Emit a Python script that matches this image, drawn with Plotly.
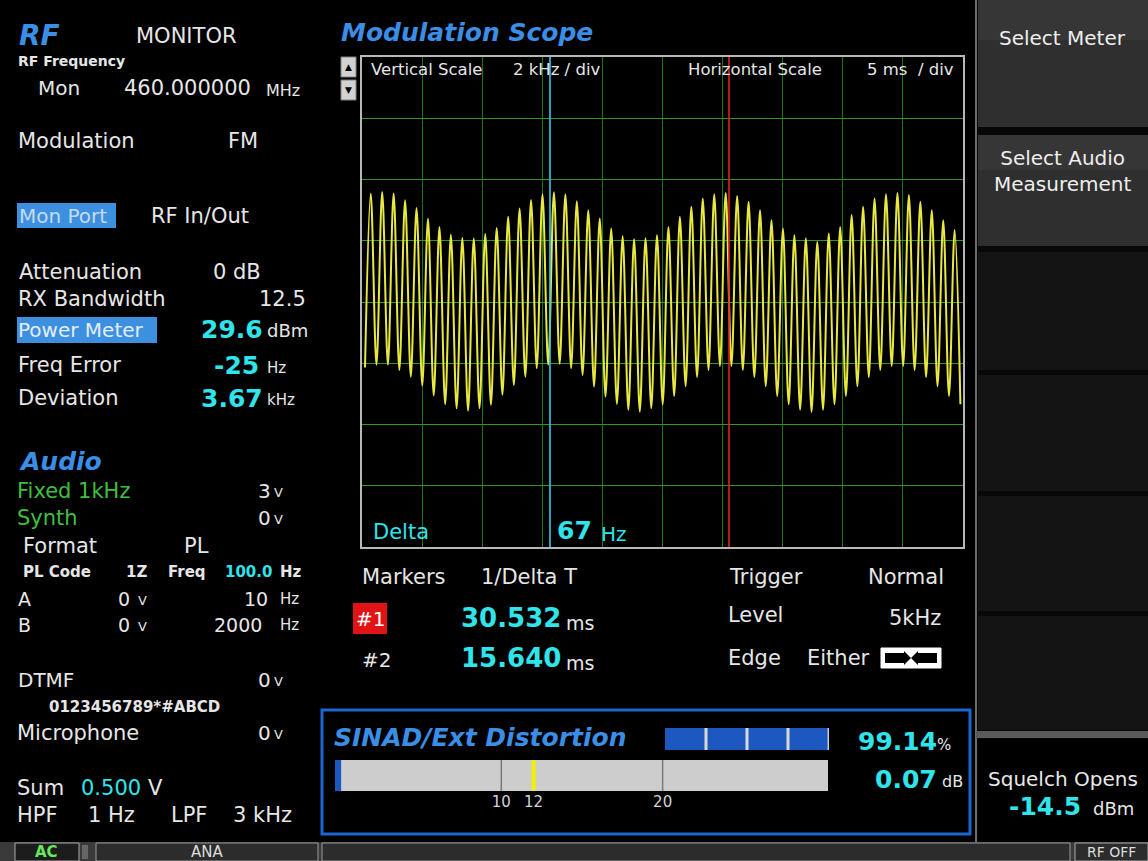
import plotly.graph_objects as go

# Modulation scope: successive trough / peak deviation values (kHz) of the 1 kHz tone
scope_troughs_khz = [-2.14, -2.05, -2.05, -2.22, -2.44, -2.73, -3.05, -3.34, -3.47, -3.55, -3.47, -3.36, -3.03,
                     -2.71, -2.44, -2.16, -2.05, -2.02, -2.16, -2.38, -2.76, -3.09, -3.33, -3.52, -3.58, -3.47,
                     -3.34, -3.07, -2.75, -2.45,
                     -2.22, -2.09, -2.09, -2.22, -2.45, -2.75, -3.07, -3.34, -3.52, -3.59, -3.52, -3.34, -3.07, -2.75, -2.45,
                     -2.22, -2.09, -2.09, -2.22, -2.45, -2.75, -3.07, -3.34]
scope_peaks_khz = [3.54, 3.59, 3.54, 3.32, 3.07, 2.72, 2.45, 2.20, 2.09, 2.07, 2.22, 2.42, 2.78,
                   3.05, 3.33, 3.52, 3.58, 3.52, 3.29, 3.00, 2.73, 2.40, 2.15, 2.05, 2.08,
                   2.18, 2.45, 2.78, 3.11, 3.38, 3.52, 3.56, 3.46, 3.27, 3.00, 2.67, 2.40, 2.18, 2.08, 1.97,
                   2.24, 2.45, 2.84, 3.11, 3.38, 3.52, 3.56, 3.49, 3.27, 3.00, 2.67, 2.35]
first_extremum_ms = 0.25      # time of first trough
half_period_ms = 0.4763       # trough-to-peak spacing of the tone
scope_x_range_ms = [0, 50]    # 5 ms/div x 10 div
scope_y_range_khz = [-8, 8]   # 2 kHz/div x 8 div
marker1_ms = 30.532
marker2_ms = 15.640

# SINAD / distortion meters
sinad_db = 0.07
distortion_pct = 99.14
sinad_axis = [-0.31, 30.25]
sinad_tickvals = [10, 12, 20]
sinad_ticktext = ["10", "12", "20"]
sinad_grey_marks = [10, 20]
sinad_limit_db = 12
dist_dividers = [25, 50, 75]

# ---------------- build trace from data ----------------
scope_vals = []
for i, tr in enumerate(scope_troughs_khz):
    scope_vals.append(tr)
    if i < len(scope_peaks_khz):
        scope_vals.append(scope_peaks_khz[i])
scope_t = [first_extremum_ms + i * half_period_ms for i in range(len(scope_vals))]

W, H = 1148, 861
FONT = "DejaVu Sans"
WHITE = "#e6e6e6"
CYAN = "#2fe4ea"
BLUE = "#3a8ee6"
GREEN = "#3fbf3f"


def px(x):
    return x / W


def py(y):
    return 1 - y / H


ann = []
shapes = []


def T(x, y, s, size=21, color=WHITE, bold=False, italic=False, xanchor="left"):
    if bold:
        s = "<b>" + s + "</b>"
    if italic:
        s = "<i>" + s + "</i>"
    ann.append(dict(x=px(x), y=py(y), xref="paper", yref="paper", text=s, showarrow=False,
                    xanchor=xanchor, yanchor="middle", borderpad=0,
                    font=dict(size=size, color=color, family=FONT)))


def R(x0, y0, x1, y1, fill=None, line=None, lw=0, layer="below"):
    shapes.append(dict(type="rect", xref="paper", yref="paper", x0=px(x0), x1=px(x1),
                       y0=py(y1), y1=py(y0), fillcolor=fill if fill else "rgba(0,0,0,0)",
                       line=dict(color=line if line else "rgba(0,0,0,0)", width=lw), layer=layer))


fig = go.Figure()

fig.add_trace(go.Scatter(x=scope_t, y=scope_vals, mode="lines",
                         line=dict(color="rgb(232,232,64)", width=2, shape="spline", smoothing=1),
                         hoverinfo="skip", xaxis="x", yaxis="y"))

# SINAD bar
fig.add_trace(go.Bar(y=[0], x=[sinad_db - sinad_axis[0]], base=[sinad_axis[0]], orientation="h", width=1,
                     marker=dict(color="#1d58c0", line=dict(width=0)), xaxis="x2", yaxis="y2",
                     hoverinfo="skip"))
# Distortion bar
fig.add_trace(go.Bar(y=[0], x=[distortion_pct], orientation="h", width=1,
                     marker=dict(color="#1d58c0", line=dict(width=0)), xaxis="x3", yaxis="y3",
                     hoverinfo="skip"))

# ---------------- left panel ----------------
T(18, 36, "RF", 28, BLUE, bold=True, italic=True)
T(135, 36, "MONITOR", 21)
T(17, 61, "RF Frequency", 14, bold=True)
T(37, 88, "Mon", 20)
T(123, 88, "460.000000", 21)
T(265, 90, "MHz", 16)
T(17, 141, "Modulation", 21)
T(227, 141, "FM", 21)
R(17, 203, 116, 228, "#3d8fe0")
T(18, 216, "Mon Port", 20, "#c4dcf4")
T(150, 216, "RF In/Out", 21)
T(18, 272, "Attenuation", 21)
T(212, 272, "0 dB", 21)
T(17, 299, "RX Bandwidth", 21)
T(258, 299, "12.5", 21)
R(17, 317, 157, 343, "#3d8fe0")
T(17, 330, "Power Meter", 20, "#e4eefa")
T(200, 330, "29.6", 25, CYAN, bold=True)
T(266, 331, "dBm", 18)
T(17, 365, "Freq Error", 21)
T(213, 365, "-25", 25, CYAN, bold=True)
T(266, 368, "Hz", 15)
T(17, 398, "Deviation", 21)
T(200, 398, "3.67", 25, CYAN, bold=True)
T(266, 400, "kHz", 15)

T(18, 461, "Audio", 25, BLUE, bold=True, italic=True)
T(16, 491, "Fixed 1kHz", 21, GREEN)
T(257, 491, "3", 20); T(273, 492, "V", 13)
T(16, 518, "Synth", 21, GREEN)
T(257, 518, "0", 20); T(273, 519, "V", 13)
T(22, 546, "Format", 21)
T(183, 546, "PL", 21)
T(22, 572, "PL Code", 15, bold=True)
T(125, 572, "1Z", 15, bold=True)
T(167, 572, "Freq", 15, bold=True)
T(224, 572, "100.0", 15, CYAN, bold=True)
T(279, 572, "Hz", 15, bold=True)
T(17, 599, "A", 19); T(117, 599, "0", 19); T(137, 600, "V", 13)
T(243, 599, "10", 19); T(279, 599, "Hz", 15)
T(17, 625, "B", 19); T(117, 625, "0", 19); T(137, 626, "V", 13)
T(213, 625, "2000", 19); T(279, 625, "Hz", 15)
T(17, 680, "DTMF", 20)
T(257, 680, "0", 20); T(273, 681, "V", 13)
T(48, 707, "0123456789*#ABCD", 15, bold=True)
T(16, 733, "Microphone", 21)
T(257, 733, "0", 20); T(273, 734, "V", 13)
T(16, 788, "Sum", 21)
T(80, 788, "0.500", 21, CYAN)
T(147, 788, "V", 21)
T(16, 815, "HPF", 21)
T(87, 815, "1 Hz", 21)
T(170, 815, "LPF", 21)
T(232, 815, "3 kHz", 21)

# ---------------- scope area ----------------
T(340, 32, "Modulation Scope", 25, BLUE, bold=True, italic=True)
R(341, 57, 356, 77, "#d2d2d2", "#808080", 1)
R(341, 80, 356, 100, "#d2d2d2", "#808080", 1)
T(348.5, 67, "▲", 9, "#000000", xanchor="center")
T(348.5, 90, "▼", 9, "#000000", xanchor="center")
T(370, 69, "Vertical Scale", 16.5)
T(512, 69, "2 kHz / div", 16.5)
T(687, 69, "Horizontal Scale", 16.5)
T(866, 69, "5 ms  / div", 16.5)
T(372, 532, "Delta", 21, CYAN)
T(556, 530, "67", 25, CYAN, bold=True)
T(600, 534, "Hz", 20, CYAN)

for xm, col in [(marker2_ms, "#35c8ea"), (marker1_ms, "#e02020")]:
    shapes.append(dict(type="line", xref="x", yref="y domain", x0=xm, x1=xm, y0=0, y1=1,
                       line=dict(color=col, width=1.6), layer="above"))

T(361, 577, "Markers", 21)
T(480, 577, "1/Delta T", 21)
T(728, 577, "Trigger", 21)
T(867, 577, "Normal", 21)
R(353, 603, 387, 634, "#e01414")
T(370, 619, "#1", 20, "#ffffff", xanchor="center")
T(460, 618, "30.532", 26, CYAN, bold=True)
T(565, 623, "ms", 19)
T(727, 615, "Level", 21)
T(888, 618, "5kHz", 21)
T(361, 660, "#2", 20)
T(460, 658, "15.640", 26, CYAN, bold=True)
T(565, 663, "ms", 19)
T(727, 658, "Edge", 21)
T(806, 658, "Either", 21)
R(881, 648, 941, 668, "#ffffff", "#ffffff", 1, layer="above")
R(885, 653, 904, 663, "#000000", layer="above")
R(918, 653, 937, 663, "#000000", layer="above")
shapes.append(dict(type="path", xref="paper", yref="paper", layer="above",
                   path="M %f %f L %f %f L %f %f Z M %f %f L %f %f L %f %f Z" % (
                       px(904), py(651), px(911), py(658), px(904), py(665),
                       px(918), py(651), px(911), py(658), px(918), py(665)),
                   fillcolor="#000000", line=dict(width=0)))

# ---------------- SINAD box ----------------
R(322, 710, 970, 834, None, "#1e64d2", 3)
T(333, 737, "SINAD/Ext Distortion", 25, BLUE, bold=True, italic=True)
R(665, 728, 829, 750, "#d0d0d0")
T(857, 741, "99.14", 25, CYAN, bold=True)
T(936, 745, "%", 15)
R(335, 760, 828, 791, "#cdcdcd")
T(874, 779, "0.07", 25, CYAN, bold=True)
T(941, 781, "dB", 16)
for v in sinad_grey_marks:
    shapes.append(dict(type="line", xref="x2", yref="y2 domain", x0=v, x1=v, y0=0, y1=1,
                       line=dict(color="#7a7a7a", width=1.5), layer="above"))
shapes.append(dict(type="line", xref="x2", yref="y2 domain", x0=sinad_limit_db, x1=sinad_limit_db,
                   y0=0, y1=1, line=dict(color="#f2f200", width=4), layer="above"))
for v in dist_dividers:
    shapes.append(dict(type="line", xref="x3", yref="y3 domain", x0=v, x1=v, y0=0, y1=1,
                       line=dict(color="#d8d8d8", width=3), layer="above"))

# ---------------- right soft-key panel ----------------
R(975, 0, 1148, 842, "#080808")
shapes.append(dict(type="line", xref="paper", yref="paper", x0=px(976), x1=px(976), y0=py(0), y1=py(842),
                   line=dict(color="#6c6c6c", width=2), layer="below"))
R(978, 0, 1148, 127, "#2f2f2f")
R(978, 0, 1148, 40, "#363636")
T(1062, 38, "Select Meter", 20, "#eeeeee", xanchor="center")
R(978, 135, 1148, 246, "#2f2f2f")
R(978, 135, 1148, 170, "#363636")
ann.append(dict(x=px(1062), y=py(171), xref="paper", yref="paper", text="Select Audio<br>Measurement",
                showarrow=False, xanchor="center", yanchor="middle", align="center",
                font=dict(size=20, color="#eeeeee", family=FONT)))
for y0, y1 in [(252, 370), (375, 491), (496, 611), (616, 730)]:
    R(978, y0, 1148, y1, "#141414")
R(976, 731, 1148, 738, "#5a5a5a")
R(978, 739, 1148, 842, "#000000")
T(1063, 779, "Squelch Opens", 20, "#e8e8e8", xanchor="center")
T(1008, 806, "-14.5", 25, CYAN, bold=True)
T(1092, 808, "dBm", 18)

# ---------------- status bar ----------------
R(0, 842, 1148, 861, "#3a3a3a")
R(15, 843, 79, 861, "#1c1c1c", "#aaaaaa", 1)
T(47, 852, "AC", 15, "#66e85e", bold=True, xanchor="center")
R(82, 845, 88, 859, "#666666")
R(96, 843, 318, 861, "#2c2c2c", "#9a9a9a", 1)
T(207, 852, "ANA", 15, "#dddddd", xanchor="center")
R(322, 843, 1070, 861, "#2c2c2c", "#9a9a9a", 1)
R(1075, 843, 1148, 861, "#2c2c2c", "#aaaaaa", 1)
T(1111, 852, "RF OFF", 14, "#dddddd", xanchor="center")

fig.update_layout(
    width=W, height=H, margin=dict(l=0, r=0, t=0, b=0),
    paper_bgcolor="#000000", plot_bgcolor="#000000", showlegend=False,
    annotations=ann, shapes=shapes,
    xaxis=dict(domain=[px(362), px(963)], range=scope_x_range_ms, tick0=0, dtick=5,
               showgrid=True, gridcolor="rgb(26,120,26)", gridwidth=1, zeroline=False,
               showticklabels=False, ticks="", showline=True, mirror=True,
               linecolor="#b8b8b8", linewidth=2, anchor="y", fixedrange=True),
    yaxis=dict(domain=[py(547), py(57)], range=scope_y_range_khz, tick0=0, dtick=2,
               showgrid=True, gridcolor="rgb(50,150,36)", gridwidth=1, zeroline=False,
               showticklabels=False, ticks="", showline=True, mirror=True,
               linecolor="#b8b8b8", linewidth=2, anchor="x", fixedrange=True),
    xaxis2=dict(domain=[px(335), px(828)], range=sinad_axis, anchor="y2",
                tickvals=sinad_tickvals, ticktext=sinad_ticktext, showgrid=False, zeroline=False,
                showline=False, ticks="", tickfont=dict(size=15, color="#d4d4d4", family=FONT)),
    yaxis2=dict(domain=[py(791), py(760)], range=[-0.5, 0.5], visible=False, anchor="x2"),
    xaxis3=dict(domain=[px(665), px(829)], range=[0, 100], visible=False, anchor="y3"),
    yaxis3=dict(domain=[py(750), py(728)], range=[-0.5, 0.5], visible=False, anchor="x3"),
)

fig.write_html("out.html", config={"displayModeBar": False},
               post_script="document.body.style.margin='0';document.body.style.background='#000';")
